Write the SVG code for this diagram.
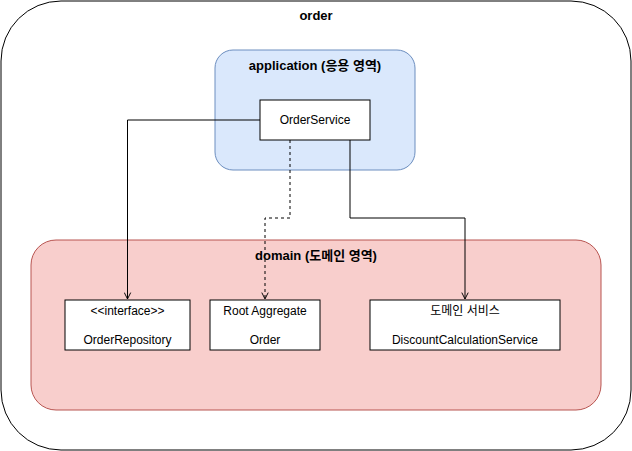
<svg xmlns="http://www.w3.org/2000/svg" width="632" height="451" viewBox="0 0 632 451">
<defs>
<style>
text{font-family:"Liberation Sans","Noto Sans CJK KR",sans-serif;fill:#000;text-anchor:middle}
.b{font-weight:bold;font-size:13px}
.r{font-size:12px}
.box{fill:#fff;stroke:#000;stroke-width:1}
.c{fill:none;stroke:#000;stroke-width:1}
</style>
<marker id="a" viewBox="0 0 10 10" refX="9" refY="5" markerWidth="8" markerHeight="8" orient="auto" markerUnits="userSpaceOnUse">
<path d="M1,1 L9,5 L1,9" fill="none" stroke="#000" stroke-width="1.2"/>
</marker>
</defs>
<g id="order">
<rect x="1" y="1" width="630" height="449" rx="60" fill="#fff" stroke="#000"/>
<text class="b" x="316" y="20">order</text>
</g>
<g id="application">
<rect x="215" y="50" width="200" height="120" rx="18" fill="#dae8fc" stroke="#6c8ebf"/>
<text class="b" x="315" y="70">application (응용 영역)</text>
</g>
<g id="domain">
<rect x="31" y="240" width="570" height="170" rx="25" fill="#f8cecc" stroke="#b85450"/>
<text class="b" x="316" y="260">domain (도메인 영역)</text>
</g>
<g id="orderservice">
<rect class="box" x="260" y="100" width="110" height="40"/>
<text class="r" x="315" y="124">OrderService</text>
</g>
<g id="orderrepository">
<rect class="box" x="65" y="300" width="125" height="50"/>
<text class="r" x="127.5" y="315">&lt;&lt;interface&gt;&gt;</text>
<text class="r" x="127.5" y="344">OrderRepository</text>
</g>
<g id="rootaggregate">
<rect class="box" x="210" y="300" width="110" height="50"/>
<text class="r" x="265" y="315">Root Aggregate</text>
<text class="r" x="265" y="344">Order</text>
</g>
<g id="domainservice">
<rect class="box" x="370" y="300" width="190" height="50"/>
<text class="r" x="465" y="315">도메인 서비스</text>
<text class="r" x="465" y="344">DiscountCalculationService</text>
</g>
<g id="connectors">
<path class="c" d="M260,120 H127.5 V299" marker-end="url(#a)"/>
<path class="c" d="M290,140 V218 H265 V299" stroke-dasharray="3,3" marker-end="url(#a)"/>
<path class="c" d="M350,140 V218 H465 V299" marker-end="url(#a)"/>
</g>
</svg>
